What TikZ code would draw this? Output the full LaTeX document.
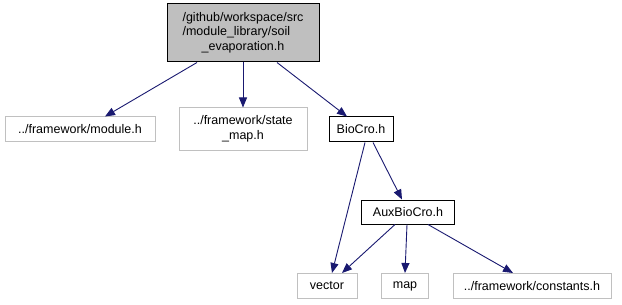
\documentclass[tikz,border=0pt]{standalone}
\usepackage{fontspec}
\setmainfont{Liberation Sans}
\usetikzlibrary{arrows.meta}
\definecolor{edgeblue}{HTML}{191970}
\definecolor{filegray}{HTML}{BFBFBF}
\definecolor{extgray}{HTML}{C0C0C0}

\begin{document}
\begin{tikzpicture}[x=1pt, y=-1pt,
    file/.style={draw=black, line width=1pt, inner sep=0pt, align=center,
                 font=\fontsize{12.5}{14.5}\selectfont},
    extfile/.style={file, draw=extgray},
    incl/.style={draw=edgeblue, line width=0.9pt, -{Triangle[length=10pt, width=8pt]}}
]
  \useasboundingbox (0,0) rectangle (622,305);

  % Datei selbst
  \node[file, fill=filegray, minimum width=152pt, minimum height=58pt] (main) at (243,33)
    {\begin{tabular}{@{}l@{}}/github/workspace/src\\/module\_library/soil\\
     \multicolumn{1}{@{}c@{}}{\_evaporation.h}\end{tabular}};

  % direkte Includes
  \node[extfile, minimum width=150pt, minimum height=25pt] (module) at (80,129.5) {../framework/module.h};
  \node[extfile, minimum width=128pt, minimum height=42pt] (statemap) at (243,129) {../framework/state\\\_map.h};
  \node[file, minimum width=64pt, minimum height=25pt] (biocro) at (361,129.5) {BioCro.h};

  % indirekte Includes
  \node[file, minimum width=93pt, minimum height=24pt] (auxbiocro) at (408,212) {AuxBioCro.h};
  \node[extfile, minimum width=60pt, minimum height=25pt] (vector) at (327,286) {vector};
  \node[extfile, minimum width=47pt, minimum height=25pt] (map) at (405,286) {map};
  \node[extfile, minimum width=158pt, minimum height=25pt] (constants) at (532,286) {../framework/constants.h};

  % Kanten
  \draw[incl] ([xshift=-46pt]main.south) -- ([xshift=25pt]module.north);
  \draw[incl] (main.south) -- (statemap.north);
  \draw[incl] ([xshift=34pt]main.south) -- ([xshift=-14pt]biocro.north);
  \draw[incl] ([xshift=4pt]biocro.south) -- ([xshift=5pt]vector.north);
  \draw[incl] ([xshift=12pt]biocro.south) -- ([xshift=-6pt]auxbiocro.north);
  \draw[incl] ([xshift=-13pt]auxbiocro.south) -- ([xshift=15pt]vector.north);
  \draw[incl] ([xshift=-1pt]auxbiocro.south) -- (map.north);
  \draw[incl] ([xshift=20pt]auxbiocro.south) -- ([xshift=-19pt]constants.north);

\end{tikzpicture}
\end{document}
